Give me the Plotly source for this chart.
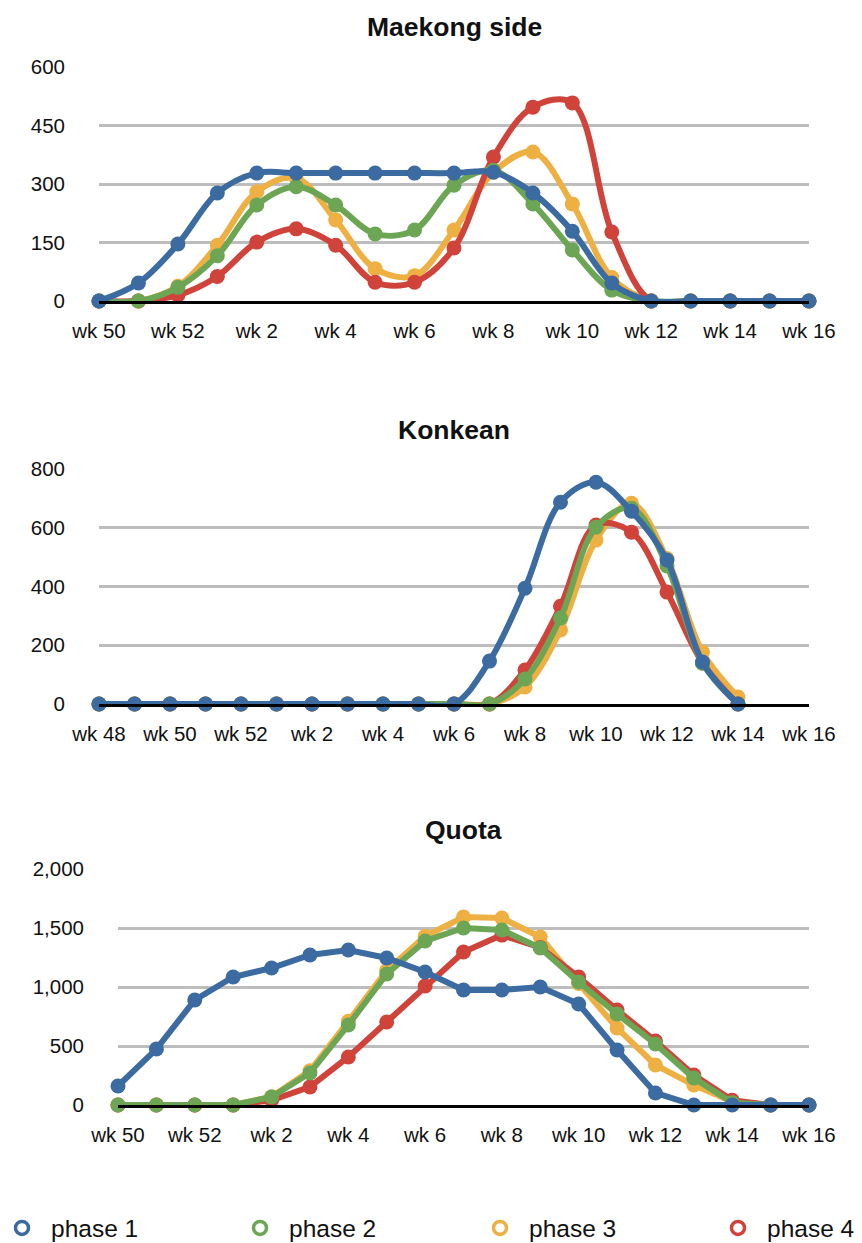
import plotly.graph_objects as go

# ---------------- data ----------------
maekong_weeks = ["wk 50", "wk 51", "wk 52", "wk 1", "wk 2", "wk 3", "wk 4", "wk 5", "wk 6", "wk 7",
                 "wk 8", "wk 9", "wk 10", "wk 11", "wk 12", "wk 13", "wk 14", "wk 15", "wk 16"]
maekong_p1 = [0, 46, 146, 277, 328, 328, 328, 328, 328, 328, 330, 277, 179, 46, 0, 0, 0, 0, 0]
maekong_p2 = [0, 0, 35, 116, 246, 293, 246, 172, 182, 297, 335, 249, 131, 28, 0, 0, 0, 0, 0]
maekong_p3 = [0, 0, 38, 143, 280, 315, 208, 83, 65, 182, 330, 382, 249, 60, 0, 0, 0, 0, 0]
maekong_p4 = [0, 0, 15, 63, 151, 185, 143, 48, 48, 136, 369, 497, 508, 177, 0, 0, 0, 0, 0]
maekong_ticks = ["wk 50", "wk 52", "wk 2", "wk 4", "wk 6", "wk 8", "wk 10", "wk 12", "wk 14", "wk 16"]

konkean_weeks = ["wk 48", "wk 49", "wk 50", "wk 51", "wk 52", "wk 1", "wk 2", "wk 3", "wk 4", "wk 5",
                 "wk 6", "wk 7", "wk 8", "wk 9", "wk 10", "wk 11", "wk 12", "wk 13", "wk 14", "wk 15", "wk 16"]
konkean_p1 = [0, 0, 0, 0, 0, 0, 0, 0, 0, 0, 0, 146, 394, 687, 755, 656, 490, 143, 0, None, None]
konkean_p2 = [0, 0, 0, 0, 0, 0, 0, 0, 0, 0, 0, 0, 85, 293, 602, 666, 470, 139, 0, None, None]
konkean_p3 = [0, 0, 0, 0, 0, 0, 0, 0, 0, 0, 0, 0, 58, 252, 558, 683, 495, 177, 24, None, None]
konkean_p4 = [0, 0, 0, 0, 0, 0, 0, 0, 0, 0, 0, 0, 116, 333, 609, 585, 381, 140, 0, None, None]
konkean_ticks = ["wk 48", "wk 50", "wk 52", "wk 2", "wk 4", "wk 6", "wk 8", "wk 10", "wk 12", "wk 14", "wk 16"]

quota_weeks = ["wk 50", "wk 51", "wk 52", "wk 1", "wk 2", "wk 3", "wk 4", "wk 5", "wk 6", "wk 7",
               "wk 8", "wk 9", "wk 10", "wk 11", "wk 12", "wk 13", "wk 14", "wk 15", "wk 16"]
quota_p1 = [161, 474, 890, 1085, 1161, 1271, 1313, 1246, 1127, 975, 975, 1000, 856, 466, 102, 0, 0, 0, 0]
quota_p2 = [0, 0, 0, 0, 68, 271, 678, 1110, 1390, 1500, 1483, 1331, 1042, 771, 517, 229, 20, 0, 0]
quota_p3 = [0, 0, 0, 0, 70, 290, 710, 1140, 1430, 1593, 1584, 1424, 1030, 652, 339, 169, 30, 0, 0]
quota_p4 = [0, 0, 0, 0, 40, 153, 407, 703, 1008, 1297, 1440, 1335, 1085, 805, 542, 254, 40, 0, 0]
quota_ticks = ["wk 50", "wk 52", "wk 2", "wk 4", "wk 6", "wk 8", "wk 10", "wk 12", "wk 14", "wk 16"]

series_names = ["phase 1", "phase 2", "phase 3", "phase 4"]
titles = ["Maekong side", "Konkean", "Quota"]

# ---------------- style ----------------
OFF = 8                      # default page margin of the html body
W, H = 862 - OFF, 1243 - OFF
colors = {"phase 1": "#3b6ba0", "phase 2": "#6ca655", "phase 3": "#efb043", "phase 4": "#cf433b"}
draw_order = ["phase 3", "phase 4", "phase 2", "phase 1"]
FONT = "Liberation Sans, Arial, sans-serif"

def fx(px):
    return (px - OFF) / W

def fy(px):
    return 1 - (px - OFF) / H

panels = [
    dict(weeks=maekong_weeks, data=dict(zip(series_names, [maekong_p1, maekong_p2, maekong_p3, maekong_p4])),
         ticks=maekong_ticks, yt=[0, 150, 300, 450, 600], yr=[0, 600], shape="spline",
         xd=[fx(99), fx(809)], yd=[fy(301), fy(67)], title_y=27, fmt=""),
    dict(weeks=konkean_weeks, data=dict(zip(series_names, [konkean_p1, konkean_p2, konkean_p3, konkean_p4])),
         ticks=konkean_ticks, yt=[0, 200, 400, 600, 800], yr=[0, 800], shape="spline",
         xd=[fx(99), fx(809)], yd=[fy(704), fy(469)], title_y=430, fmt=""),
    dict(weeks=quota_weeks, data=dict(zip(series_names, [quota_p1, quota_p2, quota_p3, quota_p4])),
         ticks=quota_ticks, yt=[0, 500, 1000, 1500, 2000], yr=[0, 2000], shape="linear",
         xd=[fx(118), fx(809)], yd=[fy(1105), fy(869)], title_y=830, fmt=","),
]

fig = go.Figure()
layout = dict(
    width=W, height=H,
    margin=dict(l=0, r=0, t=0, b=0, autoexpand=False),
    paper_bgcolor="white", plot_bgcolor="white",
    font=dict(family=FONT, size=20.5, color="#111111"),
    annotations=[],
)

for i, p in enumerate(panels):
    n = "" if i == 0 else str(i + 1)
    xa, ya = "x" + n, "y" + n
    for name in draw_order:
        fig.add_trace(go.Scatter(
            x=p["weeks"], y=p["data"][name], xaxis=xa, yaxis=ya, name=name,
            mode="lines+markers", showlegend=False, cliponaxis=False,
            line=dict(color=colors[name], width=6, shape=p["shape"], smoothing=1.0),
            marker=dict(symbol="circle", size=15, color=colors[name]),
            hoverinfo="skip",
        ))
    layout["xaxis" + n] = dict(
        domain=p["xd"], anchor=ya, type="category", categoryorder="array", categoryarray=p["weeks"],
        range=[0, len(p["weeks"]) - 1], tickmode="array", tickvals=p["ticks"], ticktext=p["ticks"],
        showgrid=False, zeroline=False, showline=True, linecolor="black", linewidth=2.5,
        ticks="", ticklabelstandoff=10, automargin=False, fixedrange=True,
        tickfont=dict(size=20.5, color="#111111"),
    )
    layout["yaxis" + n] = dict(
        domain=p["yd"], anchor=xa, range=p["yr"], tickmode="array", tickvals=p["yt"],
        tickformat=p["fmt"], showgrid=True, gridcolor="#bdbdbd", gridwidth=2.5,
        zeroline=False, showline=False, ticks="", ticklabelstandoff=33, automargin=False,
        fixedrange=True, tickfont=dict(size=20.5, color="#111111"),
    )
    layout["annotations"].append(dict(
        text="<b>" + titles[i] + "</b>", xref="paper", yref="paper",
        x=(p["xd"][0] + p["xd"][1]) / 2, y=fy(p["title_y"]), xanchor="center", yanchor="middle",
        showarrow=False, font=dict(family=FONT, size=26.5, color="#111111"),
    ))

# legends (one per series, laid out in a row)
legend_marker_px = [20, 258, 498, 736]
for k, name in enumerate(series_names):
    lg = "legend" if k == 0 else "legend" + str(k + 1)
    fig.add_trace(go.Scatter(
        x=[None], y=[None], mode="markers", name=name, legend=lg, showlegend=True,
        marker=dict(symbol="circle-open", size=13, color=colors[name], line=dict(width=3.5, color=colors[name])),
    ))
    layout[lg] = dict(
        x=fx(legend_marker_px[k] - 27), xanchor="left", y=fy(1228), yanchor="middle",
        orientation="h", bgcolor="rgba(0,0,0,0)", borderwidth=0, itemwidth=48,
        font=dict(family=FONT, size=24.5, color="#111111"), itemclick=False, itemdoubleclick=False,
    )

fig.update_layout(**layout)
fig.write_html("out.html", config={"displayModeBar": False})
